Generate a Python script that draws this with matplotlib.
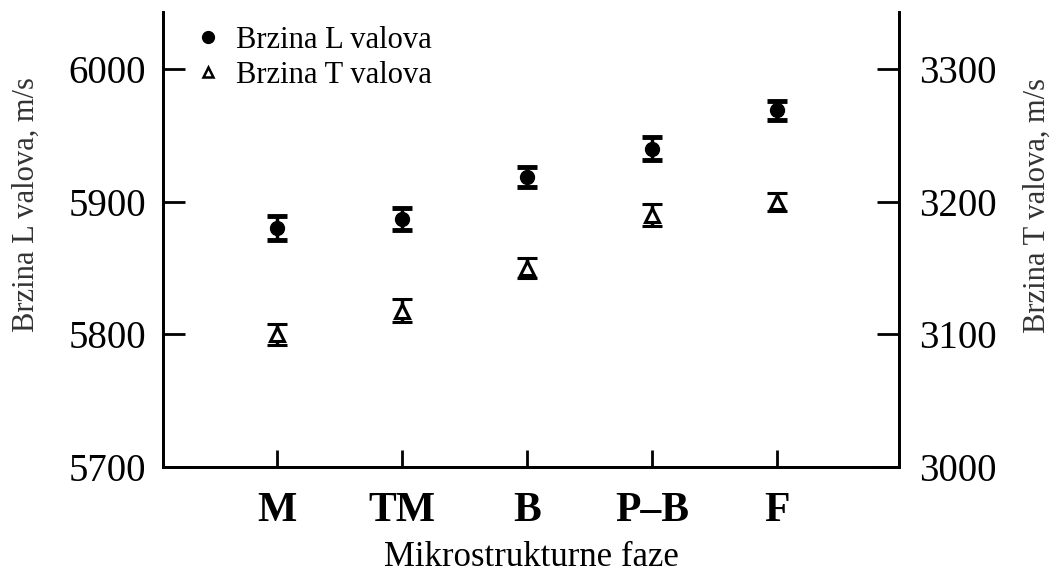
import matplotlib.pyplot as plt
from matplotlib.lines import Line2D

faze = ["M", "TM", "B", "P\u2013B", "F"]
brzina_L = [5880, 5887, 5919, 5940, 5969]
greska_L = [9, 8, 7.5, 8.5, 7]
brzina_T = [3100, 3118, 3150, 3190, 3200]
greska_T = [8, 9, 7.5, 8, 7]

plt.rcParams['font.family'] = ['Liberation Serif', 'DejaVu Serif']

fig = plt.figure(figsize=(10.58, 5.78), dpi=100)
ax = fig.add_axes([0.154, 0.192, 0.696, 0.787])
ax2 = ax.twinx()

x = list(range(1, len(faze) + 1))

ax.errorbar(x, brzina_L, yerr=greska_L, fmt='o', color='black',
            markersize=10, capsize=7, capthick=3.5, elinewidth=2.5)
ax2.errorbar(x, brzina_T, yerr=greska_T, fmt='^', color='black',
             markerfacecolor='white', markeredgewidth=2.2, markersize=10,
             capsize=7, capthick=3.5, elinewidth=2.5)

ax.set_xlim(0.088, 5.976)
ax.set_ylim(5700, 6043)
ax2.set_ylim(3000, 3343)
ax.set_yticks([5700, 5800, 5900, 6000])
ax2.set_yticks([3000, 3100, 3200, 3300])
ax.set_xticks(x)
ax.set_xticklabels(faze, fontsize=30, fontweight='bold')

for a in (ax, ax2):
    a.spines['top'].set_visible(False)
    for s in a.spines.values():
        s.set_linewidth(2)
ax.yaxis.set_ticks_position('left')
ax2.yaxis.set_ticks_position('right')
ax.tick_params(axis='y', which='both', direction='in', length=16, width=2,
               labelsize=28, pad=12)
ax2.tick_params(axis='y', which='both', direction='in', length=16, width=2,
                labelsize=28, pad=14)
ax.tick_params(axis='x', direction='in', length=12, width=2, pad=18)

ax.set_xlabel("Mikrostrukturne faze", fontsize=25, labelpad=8)
ax.set_ylabel("Brzina L valova, m/s", fontsize=22, color='#333333')
ax2.set_ylabel("Brzina T valova, m/s", fontsize=22, color='#333333')
ax.yaxis.set_label_coords(-0.166, 0.576)
ax2.yaxis.set_label_coords(1.168, 0.576)

handles = [Line2D([], [], marker='o', color='black', linestyle='none', markersize=8.5),
           Line2D([], [], marker='^', color='black', markerfacecolor='white',
                  markeredgewidth=1.8, linestyle='none', markersize=7)]
ax.legend(handles, ['Brzina L valova', 'Brzina T valova'],
          loc='upper left', bbox_to_anchor=(0.016, 1.01), frameon=False,
          fontsize=22, handletextpad=0.4, labelspacing=0.2,
          handlelength=1.0, borderaxespad=0.2)

fig.savefig("out.png", dpi=100)
